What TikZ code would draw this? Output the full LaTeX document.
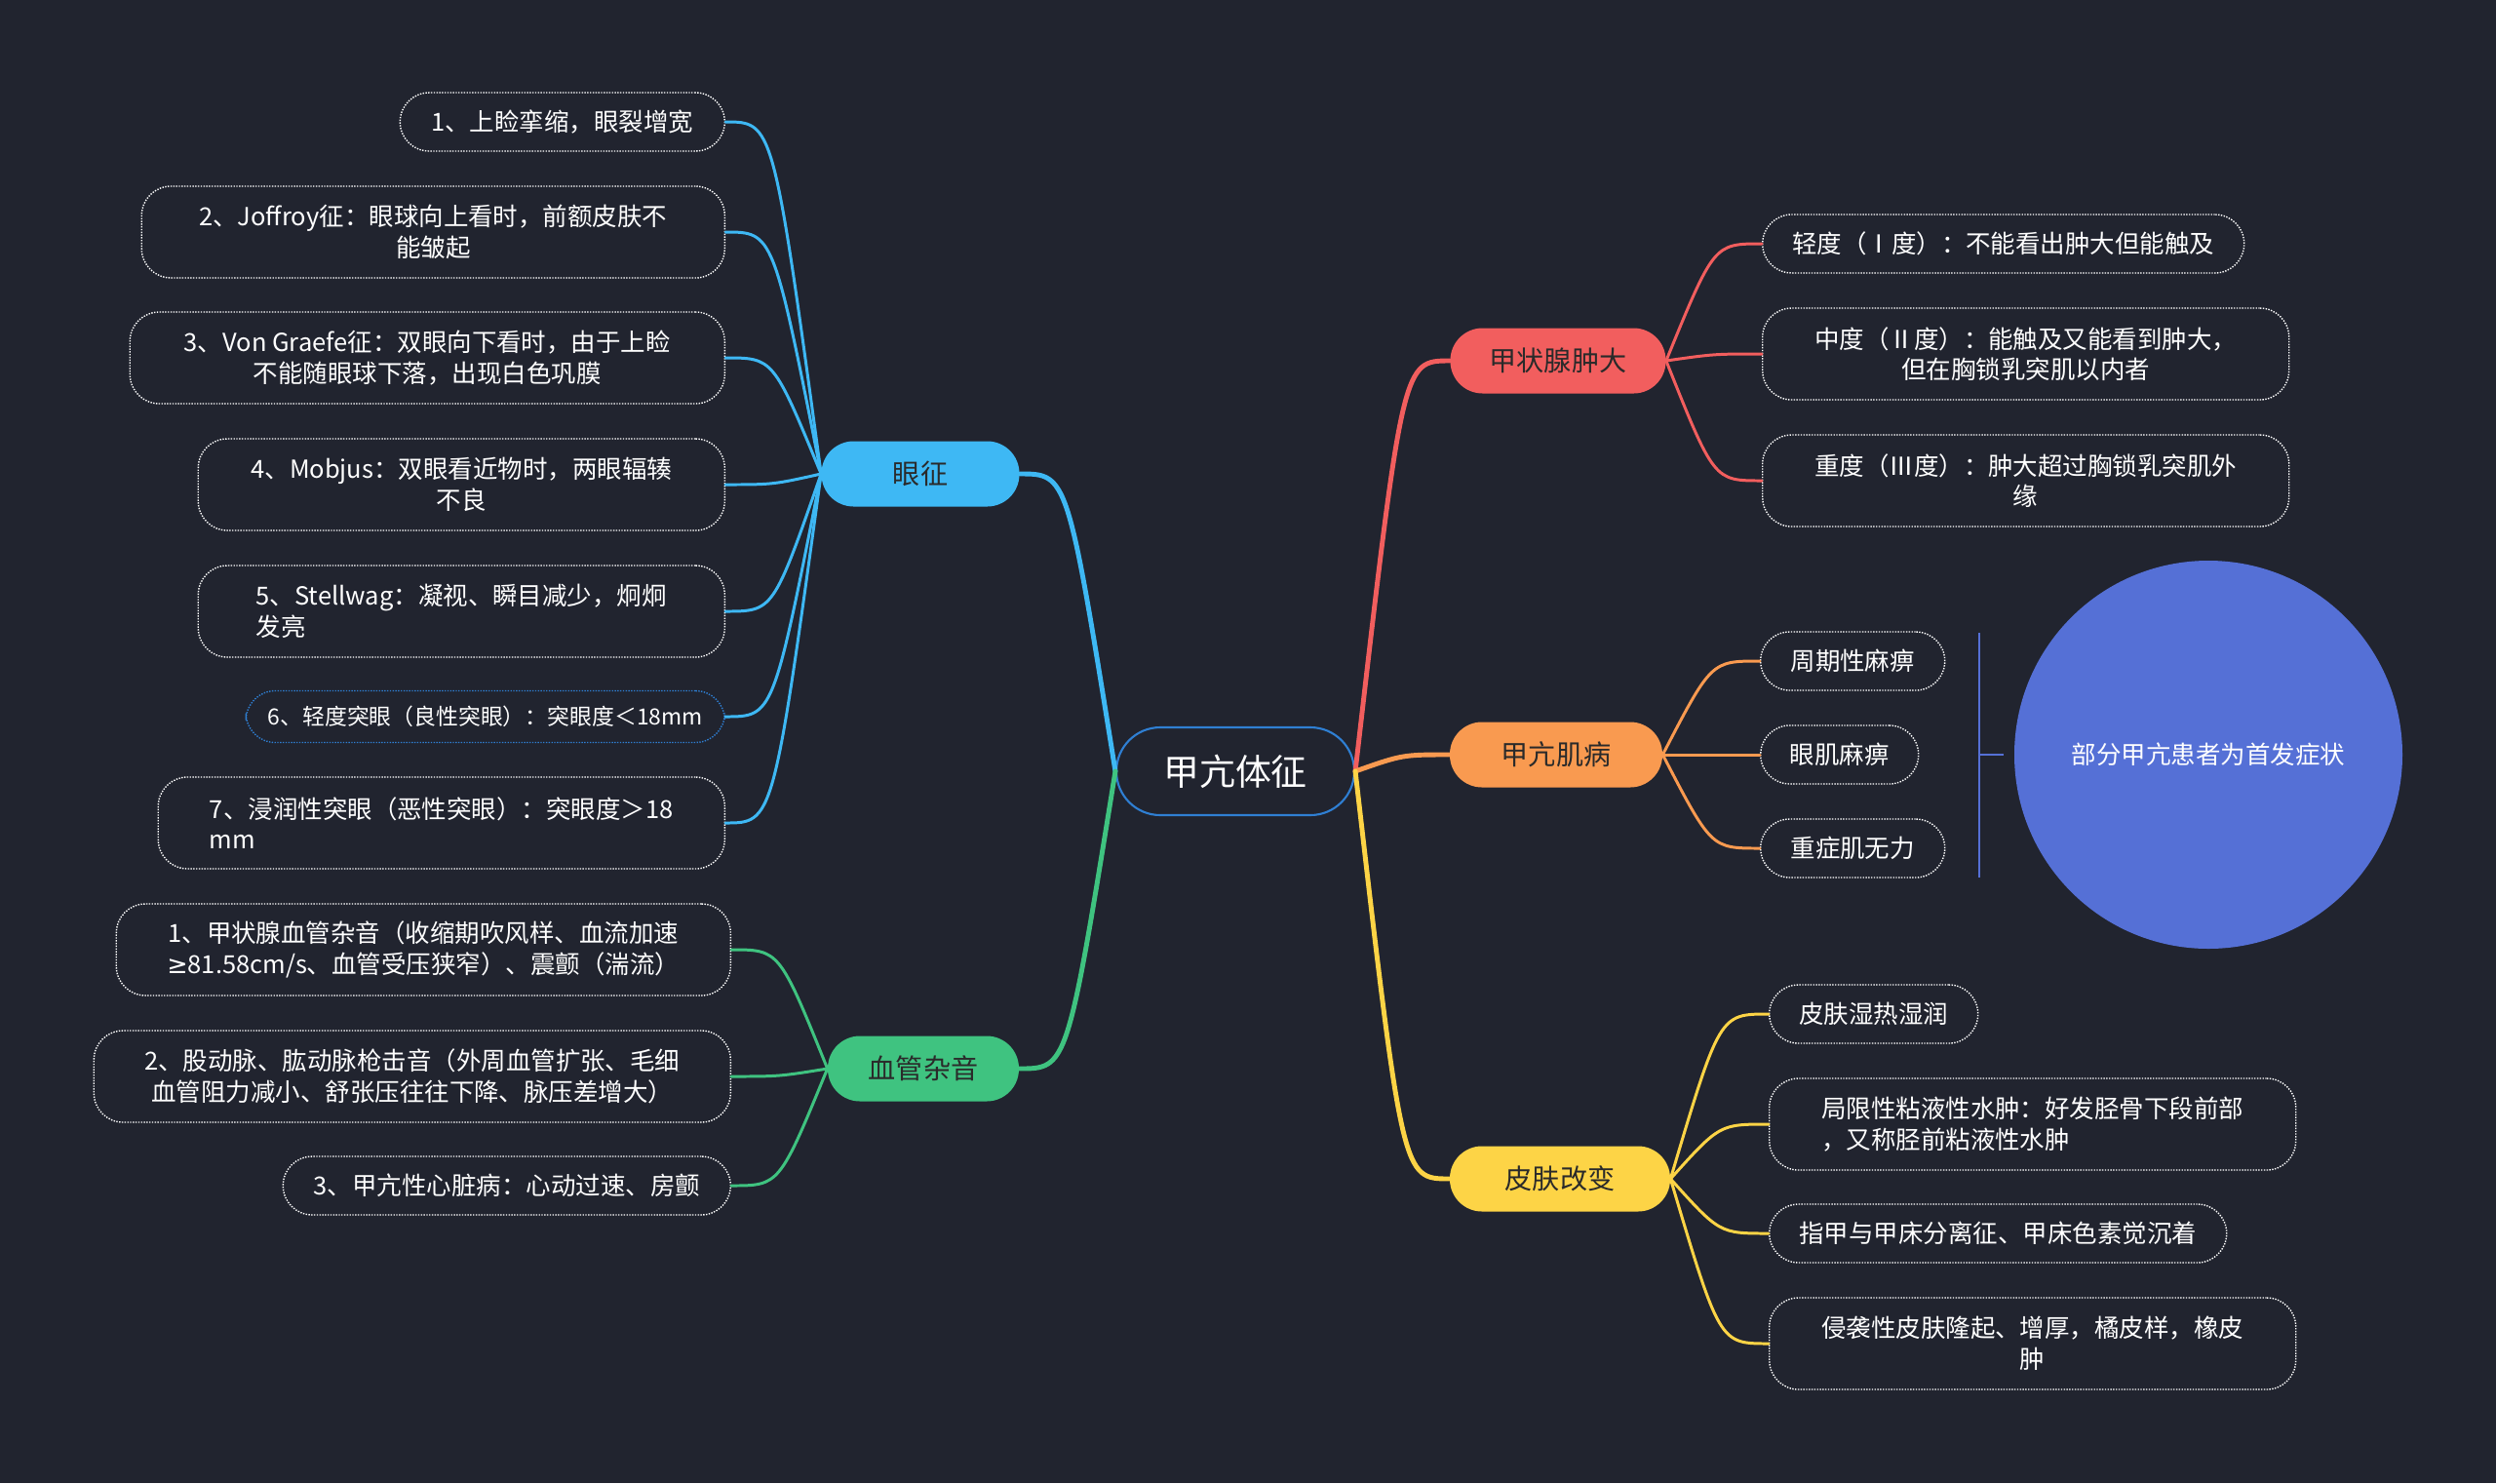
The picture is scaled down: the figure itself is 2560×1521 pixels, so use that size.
\documentclass[tikz,border=0pt]{standalone}
\usepackage{fontspec}
\newfontfamily\cjk{Noto Sans CJK SC}
\newfontfamily\symfont{DejaVu Sans}
\usetikzlibrary{calc}
\definecolor{bgdark}{HTML}{21242F}
\definecolor{eyeblue}{HTML}{3EB8F4}
\definecolor{vasgreen}{HTML}{3FC380}
\definecolor{thyred}{HTML}{F25E5E}
\definecolor{myoorange}{HTML}{F99A50}
\definecolor{skinyellow}{HTML}{FDD446}
\definecolor{notepurple}{HTML}{5570D6}
\definecolor{rootblue}{HTML}{2F7FD3}
\definecolor{topictext}{HTML}{2A2A2A}
\newcommand{\mmlink}[3]{\draw[#1] let \p1=(#2), \p2=(#3) in (\p1) .. controls ({0.5*(\x1+\x2)},\y2) .. (\p2);}
\begin{document}
\begin{tikzpicture}[x=0.2mm,y=-0.2mm,
  root/.style={draw=rootblue,line width=1.2pt,fill=bgdark,rounded corners=9mm,minimum width=48.8mm,minimum height=18mm,text=white,font=\cjk\fontsize{21}{26}\selectfont},
  topic/.style={fill=#1,rounded corners=6.6mm,minimum height=13.4mm,text=topictext,font=\cjk\fontsize{16}{20}\selectfont},
  leaf/.style={draw=white,line width=0.8pt,dash pattern=on 0.8pt off 0.8pt,rounded corners=6mm,minimum height=12mm,text=white,align=center,font=\cjk\fontsize{14.5}{18}\selectfont},
  tall/.style={minimum height=18.8mm},
  link/.style={draw=#1,line width=1.7pt,line cap=round},
  mainlink/.style={draw=#1,line width=2.8pt,line cap=round}]
  \fill[bgdark] (0,0) rectangle (2560,1521);
  \node[root] (c) at (1267,791) {甲亢体征};
  \node[topic=eyeblue,minimum width=40.6mm] (eye) at (944,486) {眼征};
  \node[topic=vasgreen,minimum width=39.2mm] (vas) at (947,1096) {血管杂音};
  \node[topic=thyred,minimum width=44.2mm] (thy) at (1598,370) {甲状腺肿大};
  \node[topic=myoorange,minimum width=43.6mm] (myo) at (1596,774) {甲亢肌病};
  \node[topic=skinyellow,minimum width=45.2mm] (skin) at (1600,1209) {皮肤改变};

  \node[leaf,anchor=east,minimum width=66.6mm] (e1) at (744,125) {1、上睑挛缩，眼裂增宽};
  \node[leaf,tall,anchor=east,minimum width=119.6mm] (e2) at (744,238) {2、Joffroy征：眼球向上看时，前额皮肤不\\能皱起};
  \node[leaf,tall,anchor=east,minimum width=122mm] (e3) at (744,367) {3、Von Graefe征：双眼向下看时，由于上睑\\不能随眼球下落，出现白色巩膜};
  \node[leaf,tall,anchor=east,minimum width=108mm] (e4) at (744,497) {4、Mobjus：双眼看近物时，两眼辐辏\\不良};
  \node[leaf,tall,anchor=east,minimum width=108mm,align=left] (e5) at (744,627) {5、Stellwag：凝视、瞬目减少，炯炯\\发亮};
  \node[leaf,draw=rootblue,anchor=east,minimum width=98.2mm,minimum height=10.6mm,font=\cjk\fontsize{13}{16}\selectfont] (e6) at (744,735) {6、轻度突眼（良性突眼）：突眼度＜18mm};
  \node[leaf,tall,anchor=east,minimum width=116.2mm,align=left] (e7) at (744,844) {7、浸润性突眼（恶性突眼）：突眼度＞18\\mm};

  \node[leaf,tall,anchor=east,minimum width=126mm] (v1) at (750,974) {1、甲状腺血管杂音（收缩期吹风样、血流加速\\{\symfont ≥}81.58cm/s、血管受压狭窄）、震颤（湍流）};
  \node[leaf,tall,anchor=east,minimum width=130.6mm] (v2) at (750,1104) {2、股动脉、肱动脉枪击音（外周血管扩张、毛细\\血管阻力减小、舒张压往往下降、脉压差增大）};
  \node[leaf,anchor=east,minimum width=91.8mm] (v3) at (750,1216) {3、甲亢性心脏病：心动过速、房颤};

  \node[leaf,anchor=west,minimum width=98.8mm] (t1) at (1807,250) {轻度（Ⅰ度）：不能看出肿大但能触及};
  \node[leaf,tall,anchor=west,minimum width=108mm] (t2) at (1807,363) {中度（Ⅱ度）：能触及又能看到肿大，\\但在胸锁乳突肌以内者};
  \node[leaf,tall,anchor=west,minimum width=108mm] (t3) at (1807,493) {重度（Ⅲ度）：肿大超过胸锁乳突肌外\\缘};

  \node[leaf,anchor=west,minimum width=37.8mm] (m1) at (1805,678) {周期性麻痹};
  \node[leaf,anchor=west,minimum width=32.4mm] (m2) at (1805,774) {眼肌麻痹};
  \node[leaf,anchor=west,minimum width=37.8mm] (m3) at (1805,870) {重症肌无力};

  \node[leaf,anchor=west,minimum width=42.8mm] (s1) at (1814,1040) {皮肤湿热湿润};
  \node[leaf,tall,anchor=west,minimum width=108mm,align=left] (s2) at (1814,1153) {局限性粘液性水肿：好发胫骨下段前部\\，又称胫前粘液性水肿};
  \node[leaf,anchor=west,minimum width=93.8mm] (s3) at (1814,1265) {指甲与甲床分离征、甲床色素觉沉着};
  \node[leaf,tall,anchor=west,minimum width=108mm] (s4) at (1814,1378) {侵袭性皮肤隆起、增厚，橘皮样，橡皮\\肿};

  \node[circle,fill=notepurple,inner sep=0pt,minimum size=79.6mm,text=white,font=\cjk\fontsize{14.5}{18}\selectfont] (note) at (2265,774) {部分甲亢患者为首发症状};
  \coordinate (brtop) at (2030,649);
  \coordinate (brbot) at (2030,900);
  \coordinate (brmid) at (2030,774);
  \coordinate (brtip) at (2055,774);
  \draw[notepurple,line width=1.3pt] (brtop) -- (brbot);
  \draw[notepurple,line width=1.3pt] (brmid) -- (brtip);

  \mmlink{mainlink=eyeblue}{c.west}{eye.east}
  \mmlink{mainlink=vasgreen}{c.west}{vas.east}
  \mmlink{mainlink=thyred}{c.east}{thy.west}
  \mmlink{mainlink=myoorange}{c.east}{myo.west}
  \mmlink{mainlink=skinyellow}{c.east}{skin.west}
  \foreach \i in {1,...,7} {\mmlink{link=eyeblue}{eye.west}{e\i.east}}
  \foreach \i in {1,2,3} {\mmlink{link=vasgreen}{vas.west}{v\i.east}}
  \foreach \i in {1,2,3} {\mmlink{link=thyred}{thy.east}{t\i.west}}
  \foreach \i in {1,2,3} {\mmlink{link=myoorange}{myo.east}{m\i.west}}
  \foreach \i in {1,...,4} {\mmlink{link=skinyellow}{skin.east}{s\i.west}}
\end{tikzpicture}
\end{document}
